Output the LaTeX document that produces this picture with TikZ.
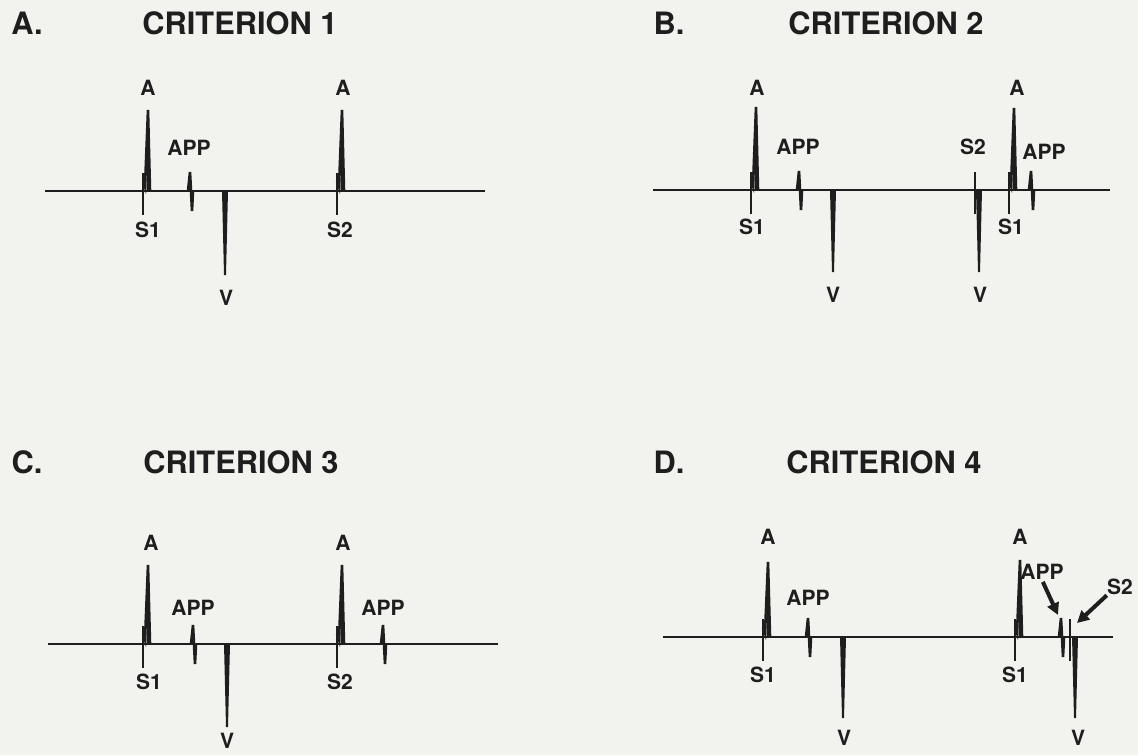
\documentclass[tikz,border=0pt]{standalone}
\usepackage{fontspec}
\setmainfont{TeX Gyre Heros}
\usetikzlibrary{arrows.meta,positioning}
\definecolor{paper}{RGB}{242,242,238}
\definecolor{ink}{RGB}{30,30,30}

\begin{document}
\begin{tikzpicture}[
  x=0.5pt, y=-0.5pt,
  wave/.style={draw=ink, line width=1.3pt, line join=miter},
  lbl/.style={inner sep=0pt, text=ink, font=\fontsize{10.5}{12}\selectfont\bfseries},
  ttl/.style={inner sep=0pt, text=ink, font=\fontsize{15.4}{18}\selectfont\bfseries},
  ptr/.style={-{Triangle[length=6pt,width=6pt]}, draw=ink, line width=2pt},
  pics/stim/.style={code={\draw[wave] (0,-18) -- (0,24);}},
  pics/atrial/.style={code={
    \draw[wave] (0,-18) -- (0,24);
    \fill[ink] (3.5,0) -- (5,-#1) -- (7,0) -- cycle;
    \draw[wave] (0,-10) -- (2,-4) -- (5,-#1) -- (7,0);}},
  pics/atrial/.default=81,
  pics/app/.style={code={\draw[wave] (-2,0) -- (0,-19) -- (1,0) -- (2,20) -- (3,0);}},
  pics/vent/.style={code={\fill[ink] (-3,0) -- (-1,#1) -- (1,#1) -- (3,0) -- cycle;}},
  pics/vent/.default=83]
\fill[paper] (0,0) rectangle (1138,755);
\useasboundingbox (0,0) rectangle (1138,755);

% A. criterion 1
\node[ttl] (hA) at (27,23) {A.};
\node[ttl] (cA) at (240,23) {CRITERION 1};
\draw[wave] (45,191) -- (485,191);
\pic at (143,191) {atrial};
\pic at (190,191) {app};
\pic at (225,191) {vent=84};
\pic at (337,191) {atrial};
\node[lbl] (a1A) at (148,88) {A};
\node[lbl] (appA) at (189,148) {APP};
\node[lbl] (s1A) at (148,230) {S1};
\node[lbl] (vA) at (226,298) {V};
\node[lbl] (a2A) at (343,88) {A};
\node[lbl] (s2A) at (340,230) {S2};

% B. criterion 2
\node[ttl] (hB) at (669,23) {B.};
\node[ttl] (cB) at (886,23) {CRITERION 2};
\draw[wave] (653,190) -- (1110,190);
\pic at (751,190) {atrial=83};
\pic at (799,190) {app};
\pic at (833,190) {vent=82};
\pic at (975,190) {stim};
\pic at (979,190) {vent=82};
\pic at (1009,190) {atrial=82};
\pic at (1031,190) {app};
\node[lbl] (a1B) at (757,88) {A};
\node[lbl] (s1B) at (752,227) {S1};
\node[lbl] (appB) at (798,147) {APP};
\node[lbl] (vB) at (833,295) {V};
\node[lbl] (s2B) at (973,147) {S2};
\node[lbl] (v2B) at (980,295) {V};
\node[lbl] (a2B) at (1017,88) {A};
\node[lbl] (s3B) at (1011,227) {S1};
\node[lbl] (app2B) at (1044,152) {APP};

% C. criterion 3
\node[ttl] (hC) at (27,462) {C.};
\node[ttl] (cC) at (241,462) {CRITERION 3};
\draw[wave] (48,644) -- (498,644);
\pic at (143,644) {atrial=79};
\pic at (193,644) {app};
\pic at (227,644) {vent=83};
\pic at (337,644) {atrial=79};
\pic at (383,644) {app};
\node[lbl] (a1C) at (151,543) {A};
\node[lbl] (s1C) at (149,682) {S1};
\node[lbl] (appC) at (193,608) {APP};
\node[lbl] (vC) at (227,741) {V};
\node[lbl] (a2C) at (343,543) {A};
\node[lbl] (s2C) at (340,682) {S2};
\node[lbl] (app2C) at (383,608) {APP};

% D. criterion 4
\node[ttl] (hD) at (669,462) {D.};
\node[ttl] (cD) at (884,462) {CRITERION 4};
\draw[wave] (663,637) -- (1113,637);
\pic at (763,637) {atrial=75};
\pic at (808,637) {app};
\pic at (843,637) {vent=81};
\pic at (1015,637) {atrial=77};
\pic at (1061,637) {app};
\pic at (1070,637) {stim};
\pic at (1075,637) {vent=81};
\node[lbl] (a1D) at (768,537) {A};
\node[lbl] (s1D) at (763,675) {S1};
\node[lbl] (appD) at (808,598) {APP};
\node[lbl] (vD) at (844,738) {V};
\node[lbl] (a2D) at (1020,537) {A};
\node[lbl] (s3D) at (1015,675) {S1};
\node[lbl] (app2D) at (1042,572) {APP};
\node[lbl] (s2D) at (1120,587) {S2};
\node[lbl] (v2D) at (1078,738) {V};
\coordinate (pApp) at (1058,615);
\coordinate (pS2) at (1077,623);
\draw[ptr, shorten <=1pt] (app2D.south) -- (pApp);
\draw[ptr] (s2D.south west) -- (pS2);
\end{tikzpicture}
\end{document}
